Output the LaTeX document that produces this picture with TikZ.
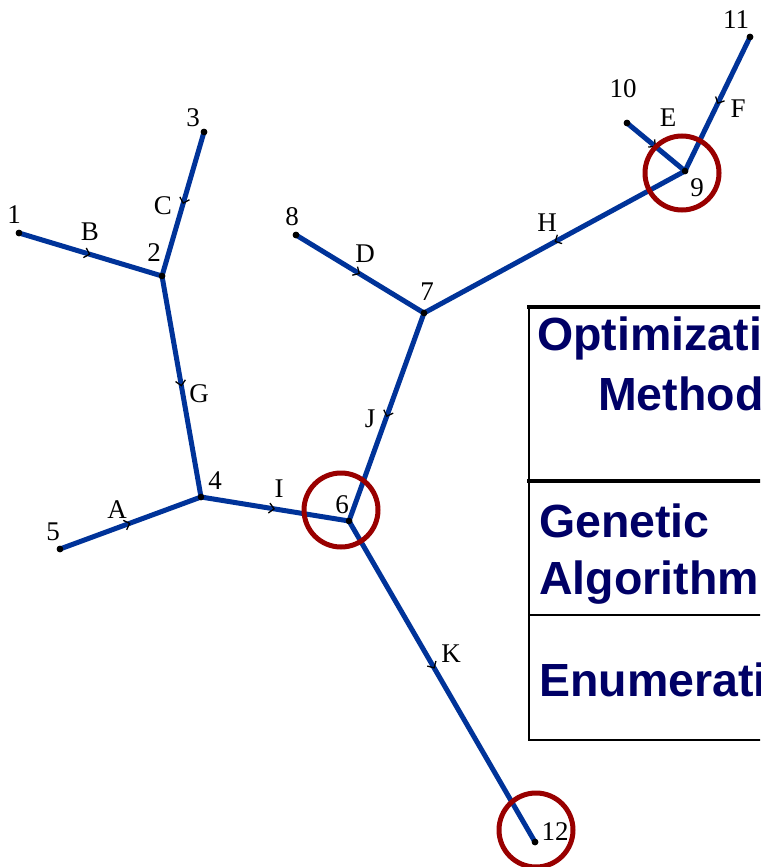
\documentclass[tikz,border=0pt]{standalone}
\usepackage{fontspec}
\setmainfont{Liberation Serif}
\newfontfamily\tabfont{Liberation Sans}
\usetikzlibrary{decorations.markings,arrows.meta}
\definecolor{edgeblue}{RGB}{0,51,153}
\definecolor{ringred}{RGB}{153,0,0}
\definecolor{navytext}{RGB}{0,0,102}
\tikzset{
  vtx/.style={circle,fill=black,inner sep=0pt,minimum size=6.5pt},
  lbl/.style={font=\fontsize{27}{31}\selectfont,inner sep=0pt},
  ring/.style={circle,draw=ringred,line width=5pt,minimum size=74pt,inner sep=0pt},
  edge/.style={draw=edgeblue,line width=5pt,postaction={decorate},
    decoration={markings,mark=at position #1 with {\arrow[black,line width=1.3pt]{Straight Barb[length=5pt,width=10pt]}}}},
  edge/.default=0.5,
  tline/.style={draw=black,line width=#1},
  ttext/.style={font=\tabfont\bfseries\fontsize{46.5}{52}\selectfont,text=navytext,anchor=base west,inner sep=0pt}
}
\begin{document}
\begin{tikzpicture}[x=1pt,y=-1pt]
\clip (0,0) rectangle (760,867);
\fill[white] (0,0) rectangle (760,867);
% vertices
\node[vtx] (n1) at (19,233) {};
\node[vtx] (n2) at (162,276) {};
\node[vtx] (n3) at (204,132) {};
\node[vtx] (n4) at (201,497) {};
\node[vtx] (n5) at (60,549) {};
\node[vtx] (n6) at (349,521) {};
\node[vtx] (n7) at (424,313) {};
\node[vtx] (n8) at (296,235) {};
\node[vtx] (n9) at (685,171) {};
\node[vtx] (n10) at (627,123) {};
\node[vtx] (n11) at (750,37) {};
\node[vtx] (n12) at (535,842) {};
% edges
\path[edge] (n1.center) -- (n2.center);
\path[edge] (n3.center) -- (n2.center);
\path[edge] (n2.center) -- (n4.center);
\path[edge] (n5.center) -- (n4.center);
\path[edge] (n4.center) -- (n6.center);
\path[edge] (n7.center) -- (n6.center);
\path[edge] (n8.center) -- (n7.center);
\path[edge] (n9.center) -- (n7.center);
\path[edge] (n10.center) -- (n9.center);
\path[edge] (n11.center) -- (n9.center);
\path[edge=0.46] (n6.center) -- (n12.center);
% rings
\node[ring] (r6) at (341,510) {};
\node[ring] (r9) at (682,173) {};
\node[ring] (r12) at (536,830) {};
% redraw dots on top
\foreach \v in {n1,n2,n3,n4,n5,n6,n7,n8,n9,n10,n11,n12}{\fill (\v) circle (3.3pt);}
% vertex labels
\node[lbl] (l1) at (14,215) {1};
\node[lbl] (l2) at (154,253) {2};
\node[lbl] (l3) at (193,118) {3};
\node[lbl] (l4) at (215,481) {4};
\node[lbl] (l5) at (53,532) {5};
\node[lbl] (l6) at (342,505) {6};
\node[lbl] (l7) at (427,292) {7};
\node[lbl] (l8) at (292,217) {8};
\node[lbl] (l9) at (697,188) {9};
\node[lbl] (l10) at (623,89) {10};
\node[lbl] (l11) at (736,20) {11};
\node[lbl] (l12) at (555,832) {12};
% edge labels
\node[lbl] (eA) at (117,510) {A};
\node[lbl] (eB) at (90,232) {B};
\node[lbl] (eC) at (163,206) {C};
\node[lbl] (eD) at (365,254) {D};
\node[lbl] (eE) at (668,118) {E};
\node[lbl] (eF) at (738,109) {F};
\node[lbl] (eG) at (199,394) {G};
\node[lbl] (eH) at (547,223) {H};
\node[lbl] (eI) at (279,489) {I};
\node[lbl] (eJ) at (370,419) {J};
\node[lbl] (eK) at (451,654) {K};
% table
\draw[tline=1.8pt] (529,307) -- (529,740);
\draw[tline=4pt] (527,307) -- (762,307);
\draw[tline=4pt] (527,481) -- (762,481);
\draw[tline=1.6pt] (529,615) -- (762,615);
\draw[tline=1.8pt] (528,740) -- (762,740);
\node[ttext] (t1) at (537,350) {Optimization};
\node[ttext] (t2) at (598,410) {Method};
\node[ttext] (t3) at (539,537) {Genetic};
\node[ttext] (t4) at (539,594) {Algorithm};
\node[ttext] (t5) at (539,696) {Enumeration};
\end{tikzpicture}
\end{document}
